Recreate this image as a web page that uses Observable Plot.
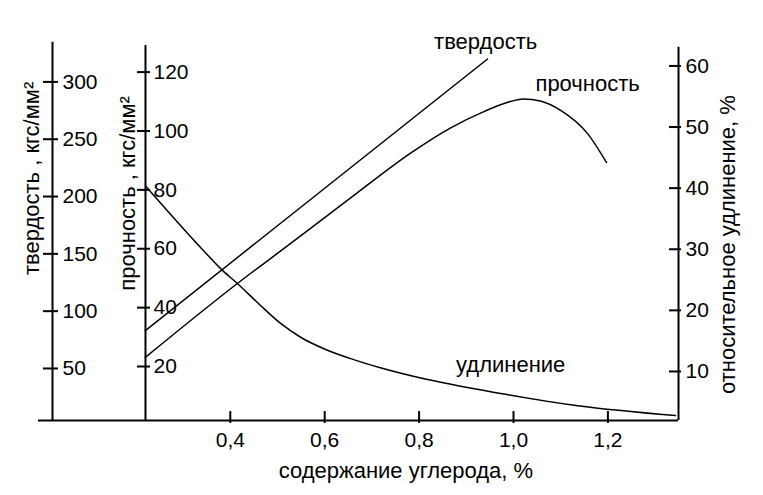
<!DOCTYPE html>
<html><head><meta charset="utf-8">
<script src="https://cdn.jsdelivr.net/npm/d3@7"></script>
<script src="https://cdn.jsdelivr.net/npm/@observablehq/plot@0.6"></script>
<style>body{margin:0;background:#fff} svg{display:block}</style>
</head><body><div id="chart"></div>
<script>
// ---- data ----
const xTicks = [0.4, 0.6, 0.8, 1.0, 1.2];
const xTickLabels = ["0,4", "0,6", "0,8", "1,0", "1,2"];
const hardTicks = [50, 100, 150, 200, 250, 300];
const strengthTicks = [20, 40, 60, 80, 100, 120];
const elongTicks = [10, 20, 30, 40, 50, 60];

const hardC = [0.22, 0.945];
const hardV = [83, 320];

const strengthC = [0.22, 0.415, 0.528, 0.648, 0.782, 0.866, 0.936, 0.985, 1.021, 1.057, 1.100, 1.157, 1.197];
const strengthV = [23.1, 48.2, 61.8, 76.4, 92.5, 101.0, 106.5, 109.6, 110.9, 110.2, 107.0, 99.1, 89.3];

const elongC = [0.22, 0.337, 0.384, 0.415, 0.464, 0.506, 0.549, 0.602, 0.655, 0.718, 0.799, 0.973, 1.136, 1.343];
const elongV = [40.4, 30.3, 26.5, 24.4, 20.8, 17.9, 15.6, 13.6, 12.1, 10.6, 9.0, 6.4, 4.4, 2.8];

// ---- axis geometry (shared y scale is in strength units) ----
const hardToY = h => 0.38937 * h - 0.14;
const elongToY = e => 2.0757 * e - 2.446;
const xOuter = 0.0233, xInner = 0.2203, xRight = 1.3496, xLeftEnd = -0.0064;
const yBase = 1.66;
const pxX = 1 / 472; // x data units per pixel
const font = "'Liberation Sans', Arial, sans-serif";
const tickFont = 21, labelFont = 22;

const hardData = hardC.map((c, i) => ({c, v: hardV[i]}));
const strData = strengthC.map((c, i) => ({c, v: strengthV[i]}));
const elData = elongC.map((c, i) => ({c, v: elongV[i]}));

const chart = Plot.plot({
  width: 763,
  height: 495,
  marginTop: 0, marginBottom: 0, marginLeft: 0, marginRight: 0,
  style: {fontFamily: font, fontSize: "20px", color: "#000", background: "#fff"},
  x: {domain: [0.4, 1.2], range: [229.8, 607.4], axis: null},
  y: {domain: [20, 120], range: [366.0, 71.6], axis: null},
  marks: [
    // axis lines
    Plot.ruleY([yBase], {x1: xLeftEnd, x2: xRight, stroke: "#000", strokeWidth: 2}),
    Plot.ruleX([xOuter], {y1: yBase, y2: 130.1, stroke: "#000", strokeWidth: 2}),
    Plot.ruleX([xInner], {y1: yBase, y2: 129.0, stroke: "#000", strokeWidth: 2}),
    Plot.ruleX([xRight], {y1: yBase, y2: 128.4, stroke: "#000", strokeWidth: 2}),
    // x ticks
    Plot.ruleX(xTicks, {x: d => d, y1: 0.65, y2: 4.7, stroke: "#000", strokeWidth: 2}),
    Plot.text(xTicks, {x: d => d, y: yBase, dy: 20, text: (d, i) => xTickLabels[i], fill: "#000", fontSize: tickFont}),
    Plot.text(["содержание углерода, %"], {x: 0.772, y: yBase, dy: 50, fill: "#000", fontSize: labelFont}),
    // hardness axis
    Plot.ruleY(hardTicks, {y: hardToY, x1: xOuter - 9 * pxX, x2: xOuter + 6 * pxX, stroke: "#000", strokeWidth: 2}),
    Plot.text(hardTicks, {y: hardToY, x: xOuter, dx: 10, text: d => String(d), textAnchor: "start", fill: "#000", fontSize: tickFont}),
    Plot.text(["твердость , кгс/мм²"], {x: xOuter, dx: -21, y: 83.9, rotate: -90, fill: "#000", fontSize: labelFont}),
    // strength axis
    Plot.ruleY(strengthTicks, {y: d => d, x1: xInner - 8 * pxX, x2: xInner + 5 * pxX, stroke: "#000", strokeWidth: 2}),
    Plot.text(strengthTicks, {y: d => d, x: xInner, dx: 8, text: d => String(d), textAnchor: "start", fill: "#000", fontSize: tickFont}),
    Plot.text(["прочность , кгс/мм²"], {x: xInner, dx: -18, y: 78.8, rotate: -90, fill: "#000", fontSize: labelFont}),
    // elongation axis
    Plot.ruleY(elongTicks, {y: elongToY, x1: xRight - 9 * pxX, x2: xRight + 3 * pxX, stroke: "#000", strokeWidth: 2}),
    Plot.text(elongTicks, {y: elongToY, x: xRight, dx: 7, text: d => String(d), textAnchor: "start", fill: "#000", fontSize: tickFont}),
    Plot.text(["относительное удлинение, %"], {x: xRight, dx: 49, y: 61.4, rotate: -90, fill: "#000", fontSize: labelFont}),
    // curves
    Plot.line(hardData, {x: "c", y: d => hardToY(d.v), stroke: "#000", strokeWidth: 1.5}),
    Plot.line(strData, {x: "c", y: "v", curve: "monotone-x", stroke: "#000", strokeWidth: 1.5}),
    Plot.line(elData, {x: "c", y: d => elongToY(d.v), curve: "monotone-x", stroke: "#000", strokeWidth: 1.5}),
    // curve labels
    Plot.text(["твердость"], {x: 0.941, y: 130.1, fill: "#000", fontSize: labelFont}),
    Plot.text(["прочность"], {x: 1.157, y: 116.1, fill: "#000", fontSize: labelFont}),
    Plot.text(["удлинение"], {x: 0.994, y: 20.4, fill: "#000", fontSize: labelFont})
  ]
});
document.getElementById("chart").appendChild(chart);
</script>
</body></html>
